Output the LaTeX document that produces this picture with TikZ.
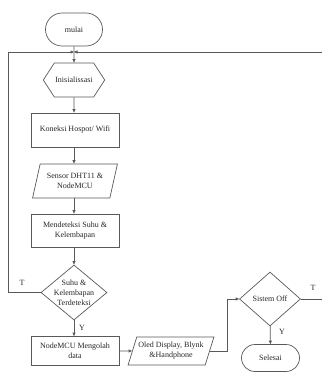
\documentclass[tikz,border=0pt]{standalone}
\usepackage{fontspec}
\setmainfont{Liberation Serif}
\usetikzlibrary{positioning, arrows.meta, calc, shapes.geometric, shapes.misc, shapes.symbols}

\begin{document}
\begin{tikzpicture}[
    x=1pt, y=-1pt,          % 参照画像のピクセル座標をそのまま使う
    line width=0.7pt,
    >={Triangle[length=3.5pt, width=3pt]},
    font=\fontsize{8}{10}\selectfont,
    text=black!85,
    terminal/.style={rounded rectangle, draw=black!65, minimum width=59pt, minimum height=33pt, inner sep=1pt},
    prep/.style={signal, signal to=west and east, signal pointer angle=114, draw=black!65,
                 minimum width=60pt, minimum height=34pt, inner sep=1pt},
    process/.style={rectangle, draw=black!65, minimum width=88pt, minimum height=33pt, align=center, inner sep=1pt},
    io/.style={trapezium, trapezium left angle=70, trapezium right angle=110, trapezium stretches=true,
               draw=black!65, minimum width=85pt, minimum height=34pt, align=center, inner sep=1pt},
    decision/.style={diamond, draw=black!65, inner sep=0pt},
    flow/.style={draw=black!65, ->},
    line/.style={draw=black!65}
]
    \useasboundingbox (0,0) rectangle (322,376);

    % --- 1. 左の列 ---
    \node [terminal] (mulai) at (74,29.5) {mulai};
    \coordinate (J) at (74,52);
    \node [prep] (init) at (74,80) {Inisialissasi};
    \node [process, minimum height=34pt] (koneksi) at (75,130) {Koneksi Hospot/ Wifi};
    \node [io] (sensor) at (75,181) {Sensor DHT11 \&\\NodeMCU};
    \node [process] (deteksi) at (75,230.5) {Mendeteksi Suhu \&\\Kelembapan};

    % ひし形は大きさを固定し、文字は別ノードで重ねる
    \node [decision, minimum width=66pt, minimum height=55pt] (suhu) at (74,292.5) {};
    \node [align=center] (suhutxt) at (suhu) {Suhu \&\\Kelembapan\\Terdeteksi};

    \node [process, minimum height=29pt] (olah) at (75,351) {NodeMCU Mengolah\\data};

    % --- 2. 右側 ---
    \node [io, minimum width=86pt, minimum height=28pt, trapezium left angle=66, trapezium right angle=114]
        (oled) at (171,351) {Oled Display, Blynk\\\&Handphone};
    \node [decision, minimum width=61pt, minimum height=54pt] (sistem) at (270,299) {};
    \node (sistemtxt) at (sistem) {Sistem Off};
    \node [terminal, minimum width=60pt, minimum height=27pt] (selesai) at (270.5,358) {Selesai};

    % --- 3. 矢印 ---
    \coordinate (lefttop) at (8,52);
    \coordinate (righttop) at (335,52);
    \coordinate (bend) at (227,0);

    \draw [line] (mulai) -- (J);
    \draw [flow] (J) -- (init);
    \draw [flow] (init) -- (init |- koneksi.north);
    \draw [flow] (koneksi.south -| J) -- (J |- sensor.north);
    \draw [flow] (sensor.south -| J) -- (J |- deteksi.north);
    \draw [flow] (deteksi.south -| J) -- (suhu.north);
    \draw [flow] (suhu.south) -- (J |- olah.north);
    \draw [flow] (olah) -- (oled);
    \draw [flow] (oled.east) -| (bend |- sistem.west) -- (sistem.west);
    \draw [flow] (sistem) -- (selesai);

    % ループ（T）
    \draw [flow] (suhu.west) -- (suhu.west -| lefttop) -- (lefttop) -- (J);
    \draw [flow] (sistem.east) -- (sistem.east -| righttop) -- (righttop) -- (J);

    % --- 4. ラベル ---
    \node (tsuhu) at (22,283) {T};
    \node (ysuhu) at (82,328) {Y};
    \node (tsistem) at (313,288) {T};
    \node (ysistem) at (282,332) {Y};

\end{tikzpicture}
\end{document}
